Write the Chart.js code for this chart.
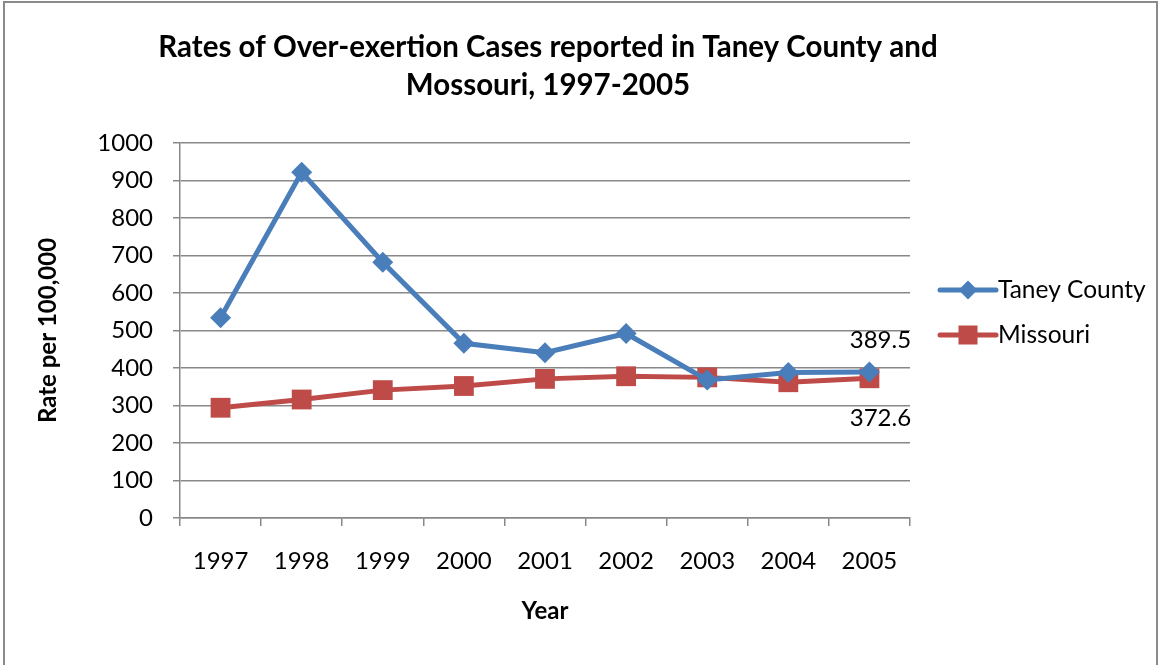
<!DOCTYPE html>
<html><head><meta charset="utf-8">
<script src="https://cdn.jsdelivr.net/npm/chart.js@4"></script>
<style>
html,body{margin:0;padding:0;background:#fff;}
#wrap{position:absolute;left:0;top:0;width:1164px;height:665px;}
#frame{position:absolute;left:3px;top:1px;width:1155px;height:700px;border:2px solid #8a8a8a;box-sizing:border-box;}
canvas{position:absolute;left:0;top:0;}
</style></head>
<body>
<div id="wrap"><div id="frame"></div><canvas id="c" width="1164" height="665"></canvas></div>
<script>
const years = ['1997','1998','1999','2000','2001','2002','2003','2004','2005'];
const taney = [534, 922, 682, 466, 441, 492, 368, 388, 389.5];
const missouri = [294, 316, 341, 352, 371, 378, 375, 362, 372.6];
const seriesNames = ['Taney County','Missouri'];
const yTicks = [0,100,200,300,400,500,600,700,800,900,1000];
const titleLines = ['Rates of Over-exertion Cases reported in Taney County and','Mossouri, 1997-2005'];

const FONT = 'Lato';
const BLUE = '#4a7ebb', RED = '#be4b48';

const titlePlugin = {
  id:'customTitle',
  afterDraw(chart){
    const ctx = chart.ctx, ca = chart.chartArea;
    ctx.save();
    ctx.font = 'bold 29.5px '+FONT; ctx.fillStyle='#000'; ctx.textAlign='center'; ctx.textBaseline='middle';
    const cx = (ca.left+ca.right)/2 + 3;
    titleLines.forEach((t,i)=> ctx.fillText(t, cx, 47 + i*38));
    ctx.restore();
  }
};

const legendPlugin = {
  id:'customLegend',
  afterDraw(chart){
    const ctx = chart.ctx, ca = chart.chartArea;
    const items = [
      {name: seriesNames[0], color: BLUE, style:'diamond'},
      {name: seriesNames[1], color: RED, style:'square'}
    ];
    ctx.save();
    items.forEach((it,i)=>{
      const y = 290 + i*45;
      const x0 = ca.right + 30, x1 = ca.right + 86;
      ctx.strokeStyle = it.color; ctx.lineWidth = 5; ctx.lineCap='round';
      ctx.beginPath(); ctx.moveTo(x0,y); ctx.lineTo(x1,y); ctx.stroke();
      ctx.fillStyle = it.color;
      const cx = (x0+x1)/2;
      if(it.style==='diamond'){
        ctx.beginPath(); ctx.moveTo(cx,y-9.5); ctx.lineTo(cx+9.5,y); ctx.lineTo(cx,y+9.5); ctx.lineTo(cx-9.5,y); ctx.closePath(); ctx.fill();
      } else {
        ctx.fillRect(cx-9.5,y-9.5,19,19);
      }
      ctx.fillStyle = '#000'; ctx.font = '24.5px '+FONT; ctx.textBaseline='middle'; ctx.textAlign='left';
      ctx.fillText(it.name, x1+2, y);
    });
    ctx.restore();
  }
};

const labelPlugin = {
  id:'endLabels',
  afterDatasetsDraw(chart){
    const ctx = chart.ctx;
    ctx.save();
    ctx.font = '24px '+FONT; ctx.fillStyle='#000'; ctx.textAlign='center'; ctx.textBaseline='middle';
    const last = years.length-1;
    const p0 = chart.getDatasetMeta(0).data[last];
    const p1 = chart.getDatasetMeta(1).data[last];
    ctx.fillText(String(taney[last]), p0.x+11, p0.y-32);
    ctx.fillText(String(missouri[last]), p1.x+11, p1.y+40);
    ctx.restore();
  }
};

new Chart(document.getElementById('c'), {
  type:'line',
  data:{
    labels: years,
    datasets:[
      {label: seriesNames[0], data: taney, borderColor: BLUE, backgroundColor: BLUE, borderWidth:5,
       pointStyle:'rectRot', pointRadius:10.5, pointBorderWidth:0, pointBackgroundColor: BLUE, tension:0},
      {label: seriesNames[1], data: missouri, borderColor: RED, backgroundColor: RED, borderWidth:5,
       pointStyle:'rect', pointRadius:14, pointBorderWidth:0, pointBackgroundColor: RED, tension:0}
    ]
  },
  options:{
    responsive:false, animation:false,
    layout:{padding:{left:20, right:254, top:143, bottom:27}},
    plugins:{
      legend:{display:false},
      tooltip:{enabled:false},
      title:{display:false}
    },
    scales:{
      x:{
        offset:true,
        grid:{display:true, drawOnChartArea:false, offset:true, tickLength:8, color:'#888', lineWidth:1.5},
        border:{color:'#888', width:1.5},
        ticks:{color:'#000', font:{family:FONT, size:24}, padding:21, maxRotation:0},
        title:{display:true, text:'Year', color:'#000', font:{family:FONT, size:24, weight:'bold'}, padding:{top:0,bottom:12}},
        afterFit(s){ s.height = 120; }
      },
      y:{
        min:0, max:1000,
        afterBuildTicks(s){ s.ticks = yTicks.map(v=>({value:v})); },
        grid:{color:'#888', lineWidth:1.5, tickLength:7},
        border:{color:'#888', width:1.5},
        ticks:{color:'#000', font:{family:FONT, size:24}, padding:20, callback:(v)=>String(v)},
        title:{display:true, text:'Rate per 100,000', color:'#000', font:{family:FONT, size:24, weight:'bold'}, padding:{top:14,bottom:0}},
        afterFit(s){ s.width = 160; }
      }
    }
  },
  plugins:[titlePlugin, legendPlugin, labelPlugin]
});
</script>
</body></html>
